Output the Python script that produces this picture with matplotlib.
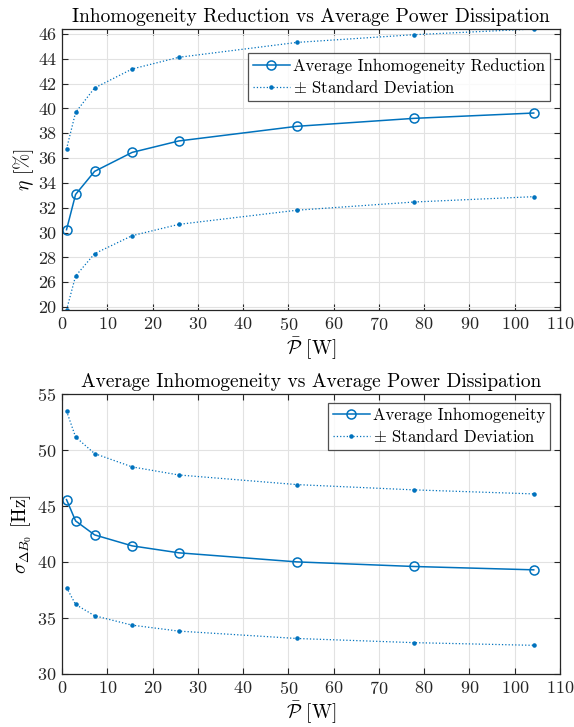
import matplotlib
matplotlib.use("Agg")
import matplotlib.pyplot as plt
import numpy as np

plt.rcParams["font.family"] = "cmr10"
plt.rcParams["mathtext.fontset"] = "cm"
plt.rcParams["axes.formatter.use_mathtext"] = True

# average dissipated power per configuration [W]
power = [1.0, 3.0, 7.2, 15.5, 25.8, 51.9, 77.7, 104.2]

# inhomogeneity reduction [%]
eta_mean = [30.23, 33.07, 34.93, 36.46, 37.38, 38.56, 39.20, 39.63]
eta_upper = [36.73, 39.68, 41.65, 43.18, 44.12, 45.32, 45.94, 46.40]
eta_lower = [23.76, 26.50, 28.30, 29.75, 30.66, 31.80, 32.46, 32.89]
eta_ticks = [24, 26, 28, 30, 32, 34, 36, 38, 40, 42, 44, 46]
eta_ticklabels = ["20", "26", "28", "30", "32", "34", "36", "38", "40", "42", "44", "46"]

# field inhomogeneity std [Hz]
sigma_mean = [45.57, 43.67, 42.42, 41.44, 40.82, 40.01, 39.60, 39.30]
sigma_upper = [53.48, 51.16, 49.68, 48.49, 47.77, 46.91, 46.44, 46.08]
sigma_lower = [37.72, 36.21, 35.20, 34.36, 33.83, 33.17, 32.80, 32.56]

blue = "#0072BD"
dark = "#262626"

fig = plt.figure(figsize=(5.74, 7.27), dpi=100)
ax1 = fig.add_axes([62 / 574, 1 - 310 / 727, 498 / 574, 281 / 727])
ax2 = fig.add_axes([62 / 574, 1 - 674 / 727, 498 / 574, 280 / 727])


def style(ax):
    ax.grid(True, color="#e2e2e2", linewidth=0.8)
    ax.set_axisbelow(True)
    for s in ax.spines.values():
        s.set_color(dark)
        s.set_linewidth(0.9)
    ax.tick_params(direction="in", length=4, width=0.8, colors=dark,
                   labelsize=13, top=True, right=True, pad=4)
    ax.set_xlim(0, 110)
    ax.set_xticks(np.arange(0, 111, 10))


def legend(ax, anchor):
    leg = ax.legend(loc="upper right", bbox_to_anchor=anchor,
                    fontsize=12, frameon=True, fancybox=False,
                    edgecolor=dark, handlelength=2.2, borderpad=0.3,
                    labelspacing=0.3, handletextpad=0.2, borderaxespad=0)
    leg.get_frame().set_linewidth(0.9)


# top: reduction
ax1.plot(power, eta_mean, "-o", color=blue, lw=1.1, ms=6.5, mfc="none",
         mew=1.1, label="Average Inhomogeneity Reduction")
ax1.plot(power, eta_upper, ":.", color=blue, lw=0.9, ms=4.5,
         label=r"$\pm$ Standard Deviation")
ax1.plot(power, eta_lower, ":.", color=blue, lw=0.9, ms=4.5)
style(ax1)
ax1.set_ylim(min(eta_lower), max(eta_upper))
ax1.set_yticks(eta_ticks)
ax1.set_yticklabels(eta_ticklabels)
ax1.set_title("Inhomogeneity Reduction vs Average Power Dissipation",
              fontsize=14, color="black", pad=5)
ax1.set_xlabel(r"$\bar{\mathcal{P}}$ [W]", fontsize=14, labelpad=2)
ax1.set_ylabel(r"$\eta$ [%]", fontsize=14, labelpad=2)
legend(ax1, (0.98, 0.915))

# bottom: inhomogeneity
ax2.plot(power, sigma_mean, "-o", color=blue, lw=1.1, ms=6.5, mfc="none",
         mew=1.1, label="Average Inhomogeneity")
ax2.plot(power, sigma_upper, ":.", color=blue, lw=0.9, ms=4.5,
         label=r"$\pm$ Standard Deviation")
ax2.plot(power, sigma_lower, ":.", color=blue, lw=0.9, ms=4.5)
style(ax2)
ax2.set_ylim(30, 55)
ax2.set_yticks(np.arange(30, 56, 5))
ax2.set_title("Average Inhomogeneity vs Average Power Dissipation",
              fontsize=14, color="black", pad=5)
ax2.set_xlabel(r"$\bar{\mathcal{P}}$ [W]", fontsize=14, labelpad=2)
ax2.set_ylabel(r"$\sigma_{\Delta B_0}$ [Hz]", fontsize=14, labelpad=2)
legend(ax2, (0.98, 0.968))

fig.savefig("out.png", dpi=100, facecolor="white")
